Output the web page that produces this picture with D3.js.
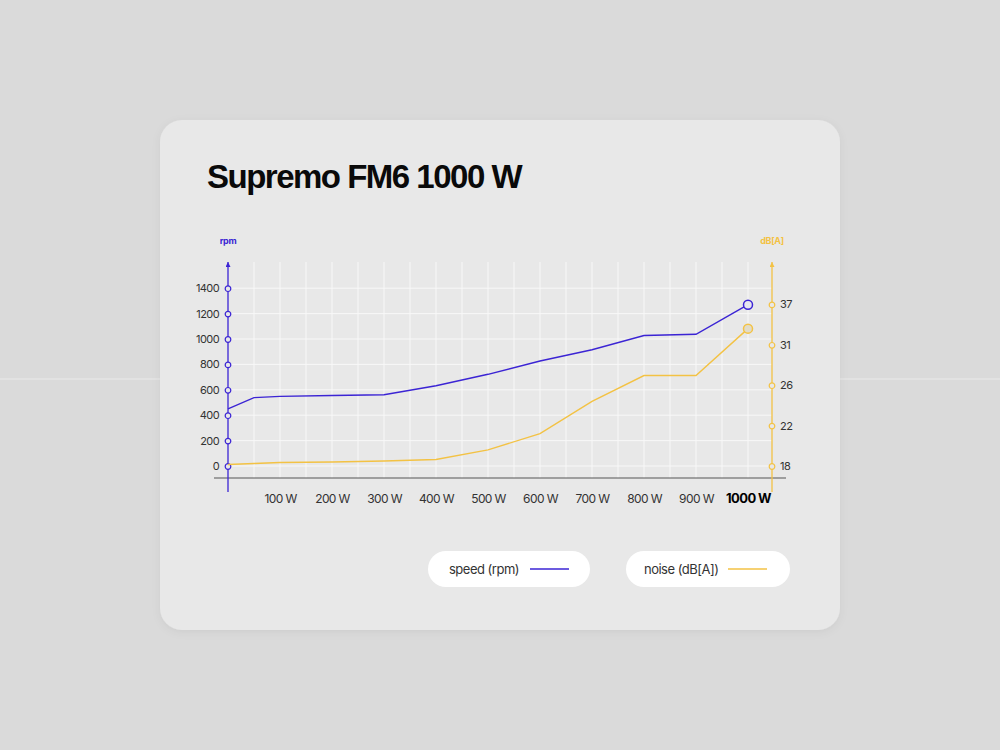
<!DOCTYPE html>
<html>
<head>
<meta charset="utf-8">
<script src="https://cdn.jsdelivr.net/npm/d3@7"></script>
<style>
  html, body { margin: 0; padding: 0; background: #dadada; }
  svg { display: block; font-family: Inter, "Liberation Sans", sans-serif; }
</style>
</head>
<body>
<div id="chart"></div>
<script>
// DATA //
var watts = [0, 50, 100, 200, 300, 400, 500, 600, 700, 800, 900, 1000]
var speedRpm = [450, 538, 548, 555, 561, 632, 722, 827, 915, 1027, 1037, 1270]
var noiseDb = [18.15, 18.25, 18.35, 18.4, 18.5, 18.65, 19.6, 21.2, 24.4, 27.2, 27.2, 33.4]

var rpmTicks = [0, 200, 400, 600, 800, 1000, 1200, 1400]
var dbTicks = [18, 22, 26, 31, 37]
var wattTicks = [100, 200, 300, 400, 500, 600, 700, 800, 900, 1000]
var gridWatts = d3.range(50, 1001, 50)

var legendItems = [{label: "speed (rpm)", key: "speed"}, {label: "noise (dB[A])", key: "noise"}]

var PURPLE = "#3b24d4"
var YELLOW = "#f3c244"
var width = 1000, height = 750

var svg = d3.select("#chart").append("svg")
  .attr("width", width)
  .attr("height", height)

// background + card
svg.append("rect").attr("width", width).attr("height", height).attr("fill", "#dadada")
svg.append("line")
  .attr("x1", 0).attr("x2", width).attr("y1", 379).attr("y2", 379)
  .attr("stroke", "#ffffff").attr("stroke-opacity", 0.45)

var defs = svg.append("defs")
var f = defs.append("filter").attr("id", "shadow").attr("x", "-10%").attr("y", "-10%").attr("width", "120%").attr("height", "120%")
f.append("feDropShadow").attr("dx", 0).attr("dy", 2).attr("stdDeviation", 4).attr("flood-color", "#000").attr("flood-opacity", 0.06)

svg.append("rect")
  .attr("x", 160).attr("y", 120).attr("width", 680).attr("height", 510)
  .attr("rx", 22)
  .attr("fill", "#e8e8e8")
  .attr("filter", "url(#shadow)")

svg.append("text")
  .attr("x", 207).attr("y", 188)
  .style("font-family", "'Liberation Sans', Arial, sans-serif")
  .style("font-size", "33px")
  .style("font-weight", 700)
  .style("letter-spacing", "-1.5px")
  .attr("fill", "#0a0a0a")
  .text("Supremo FM6 1000 W")

// SCALES //
var x = d3.scaleLinear().domain([0, 1000]).range([228, 748])
var y = d3.scaleLinear().domain([0, 1400]).range([466, 288.2])
var yDb = d3.scaleLinear().domain(dbTicks).range([466, 425.6, 385.2, 344.8, 304.4])

var plotTop = 262, base = 478, axisEnd = 492
var xRight = 772

// GRID //
svg.append("g").selectAll("line")
  .data(gridWatts)
  .enter().append("line")
    .attr("x1", d => x(d)).attr("x2", d => x(d))
    .attr("y1", plotTop).attr("y2", base)
    .attr("stroke", "#f8f8f8").attr("stroke-width", 1)

svg.append("g").selectAll("line")
  .data(rpmTicks)
  .enter().append("line")
    .attr("x1", x(0)).attr("x2", xRight)
    .attr("y1", d => y(d)).attr("y2", d => y(d))
    .attr("stroke", "#f8f8f8").attr("stroke-width", 1)

// baseline
svg.append("line")
  .attr("x1", 214).attr("x2", 786)
  .attr("y1", base).attr("y2", base)
  .attr("stroke", "#555").attr("stroke-width", 1.2)

// X AXIS //
var xAxis = svg.append("g")
  .attr("transform", "translate(0," + base + ")")
  .call(d3.axisBottom(x).tickValues(wattTicks).tickSize(0).tickPadding(16).tickFormat(d => d + " W"))
xAxis.select(".domain").remove()
xAxis.selectAll("text")
  .style("font-family", "Inter, sans-serif")
  .style("font-size", "12px")
  .style("letter-spacing", "-0.6px")
  .attr("fill", "#333")
xAxis.selectAll(".tick").filter(d => d === 1000).select("text")
  .style("font-weight", 700)
  .style("font-size", "13px")
  .attr("fill", "#000")

// arrow markers
function arrow(id, color) {
  defs.append("marker")
    .attr("id", id)
    .attr("viewBox", "0 0 10 10")
    .attr("refX", 10).attr("refY", 5)
    .attr("markerWidth", 5).attr("markerHeight", 5)
    .attr("markerUnits", "userSpaceOnUse")
    .attr("orient", "auto")
  .append("path")
    .attr("d", "M0,0 L10,5 L0,10 Z")
    .attr("fill", color)
}
arrow("arrowP", PURPLE)
arrow("arrowY", YELLOW)

// LEFT AXIS //
svg.append("line")
  .attr("x1", x(0)).attr("x2", x(0))
  .attr("y1", axisEnd).attr("y2", plotTop)
  .attr("stroke", PURPLE).attr("stroke-width", 1.3)
  .attr("marker-end", "url(#arrowP)")

var yAxis = svg.append("g")
  .attr("transform", "translate(" + x(0) + ",0)")
  .call(d3.axisLeft(y).tickValues(rpmTicks).tickSize(0).tickPadding(9).tickFormat(d3.format("d")))
yAxis.select(".domain").remove()
yAxis.selectAll("text")
  .style("font-family", "Inter, sans-serif")
  .style("font-size", "11px")
  .style("letter-spacing", "-0.6px")
  .attr("fill", "#333")
yAxis.selectAll(".tick").append("circle")
  .attr("r", 2.8)
  .attr("fill", "#e8e8e8")
  .attr("stroke", PURPLE)
  .attr("stroke-width", 1.2)

svg.append("text")
  .attr("x", x(0)).attr("y", 244)
  .attr("text-anchor", "middle")
  .style("font-size", "9px").style("font-weight", 700)
  .style("letter-spacing", "-0.3px")
  .attr("fill", PURPLE)
  .text("rpm")

// RIGHT AXIS //
svg.append("line")
  .attr("x1", xRight).attr("x2", xRight)
  .attr("y1", axisEnd).attr("y2", plotTop)
  .attr("stroke", YELLOW).attr("stroke-width", 1.3)
  .attr("marker-end", "url(#arrowY)")

var yAxisR = svg.append("g")
  .attr("transform", "translate(" + xRight + ",0)")
  .call(d3.axisRight(yDb).tickValues(dbTicks).tickSize(0).tickPadding(8))
yAxisR.select(".domain").remove()
yAxisR.selectAll("text")
  .style("font-family", "Inter, sans-serif")
  .style("font-size", "11px")
  .style("letter-spacing", "-0.5px")
  .attr("fill", "#333")
yAxisR.selectAll(".tick").append("circle")
  .attr("r", 2.8)
  .attr("fill", "#e8e8e8")
  .attr("stroke", YELLOW)
  .attr("stroke-width", 1.2)

svg.append("text")
  .attr("x", xRight).attr("y", 244)
  .attr("text-anchor", "middle")
  .style("font-size", "9px").style("font-weight", 700)
  .style("letter-spacing", "-0.3px")
  .attr("fill", YELLOW)
  .text("dB[A]")

// LINES //
var speedLine = d3.line().x((d, i) => x(watts[i])).y(d => y(d))
var noiseLine = d3.line().x((d, i) => x(watts[i])).y(d => yDb(d))

svg.append("path")
  .datum(noiseDb)
  .attr("d", noiseLine)
  .attr("fill", "none")
  .attr("stroke", YELLOW)
  .attr("stroke-width", 1.4)

svg.append("path")
  .datum(speedRpm)
  .attr("d", speedLine)
  .attr("fill", "none")
  .attr("stroke", PURPLE)
  .attr("stroke-width", 1.4)

var last = watts.length - 1
svg.append("circle")
  .attr("cx", x(watts[last])).attr("cy", y(speedRpm[last]))
  .attr("r", 4.5)
  .attr("fill", "#e6e6ee")
  .attr("stroke", PURPLE).attr("stroke-width", 1.5)

svg.append("circle")
  .attr("cx", x(watts[last])).attr("cy", yDb(noiseDb[last]))
  .attr("r", 4.5)
  .attr("fill", "#e2dcc8")
  .attr("stroke", YELLOW).attr("stroke-width", 1.5)

// LEGEND //
var pillX = [428, 626]
var pillW = [162, 164]
var legend = svg.selectAll(".legend")
  .data(legendItems)
  .enter().append("g")
    .attr("class", "legend")
    .attr("transform", (d, i) => "translate(" + pillX[i] + ",551)")

legend.append("rect")
  .attr("width", (d, i) => pillW[i]).attr("height", 36)
  .attr("rx", 18)
  .attr("fill", "#ffffff")

legend.append("text")
  .attr("x", (d, i) => i === 0 ? 21 : 18)
  .attr("y", 22.5)
  .style("font-size", "13px")
  .style("letter-spacing", "-0.5px")
  .attr("fill", "#333")
  .text(d => d.label)

legend.append("line")
  .attr("x1", 102).attr("x2", 141)
  .attr("y1", 18).attr("y2", 18)
  .attr("stroke", d => d.key === "speed" ? PURPLE : YELLOW)
  .attr("stroke-width", 1.5)
</script>
</body>
</html>
